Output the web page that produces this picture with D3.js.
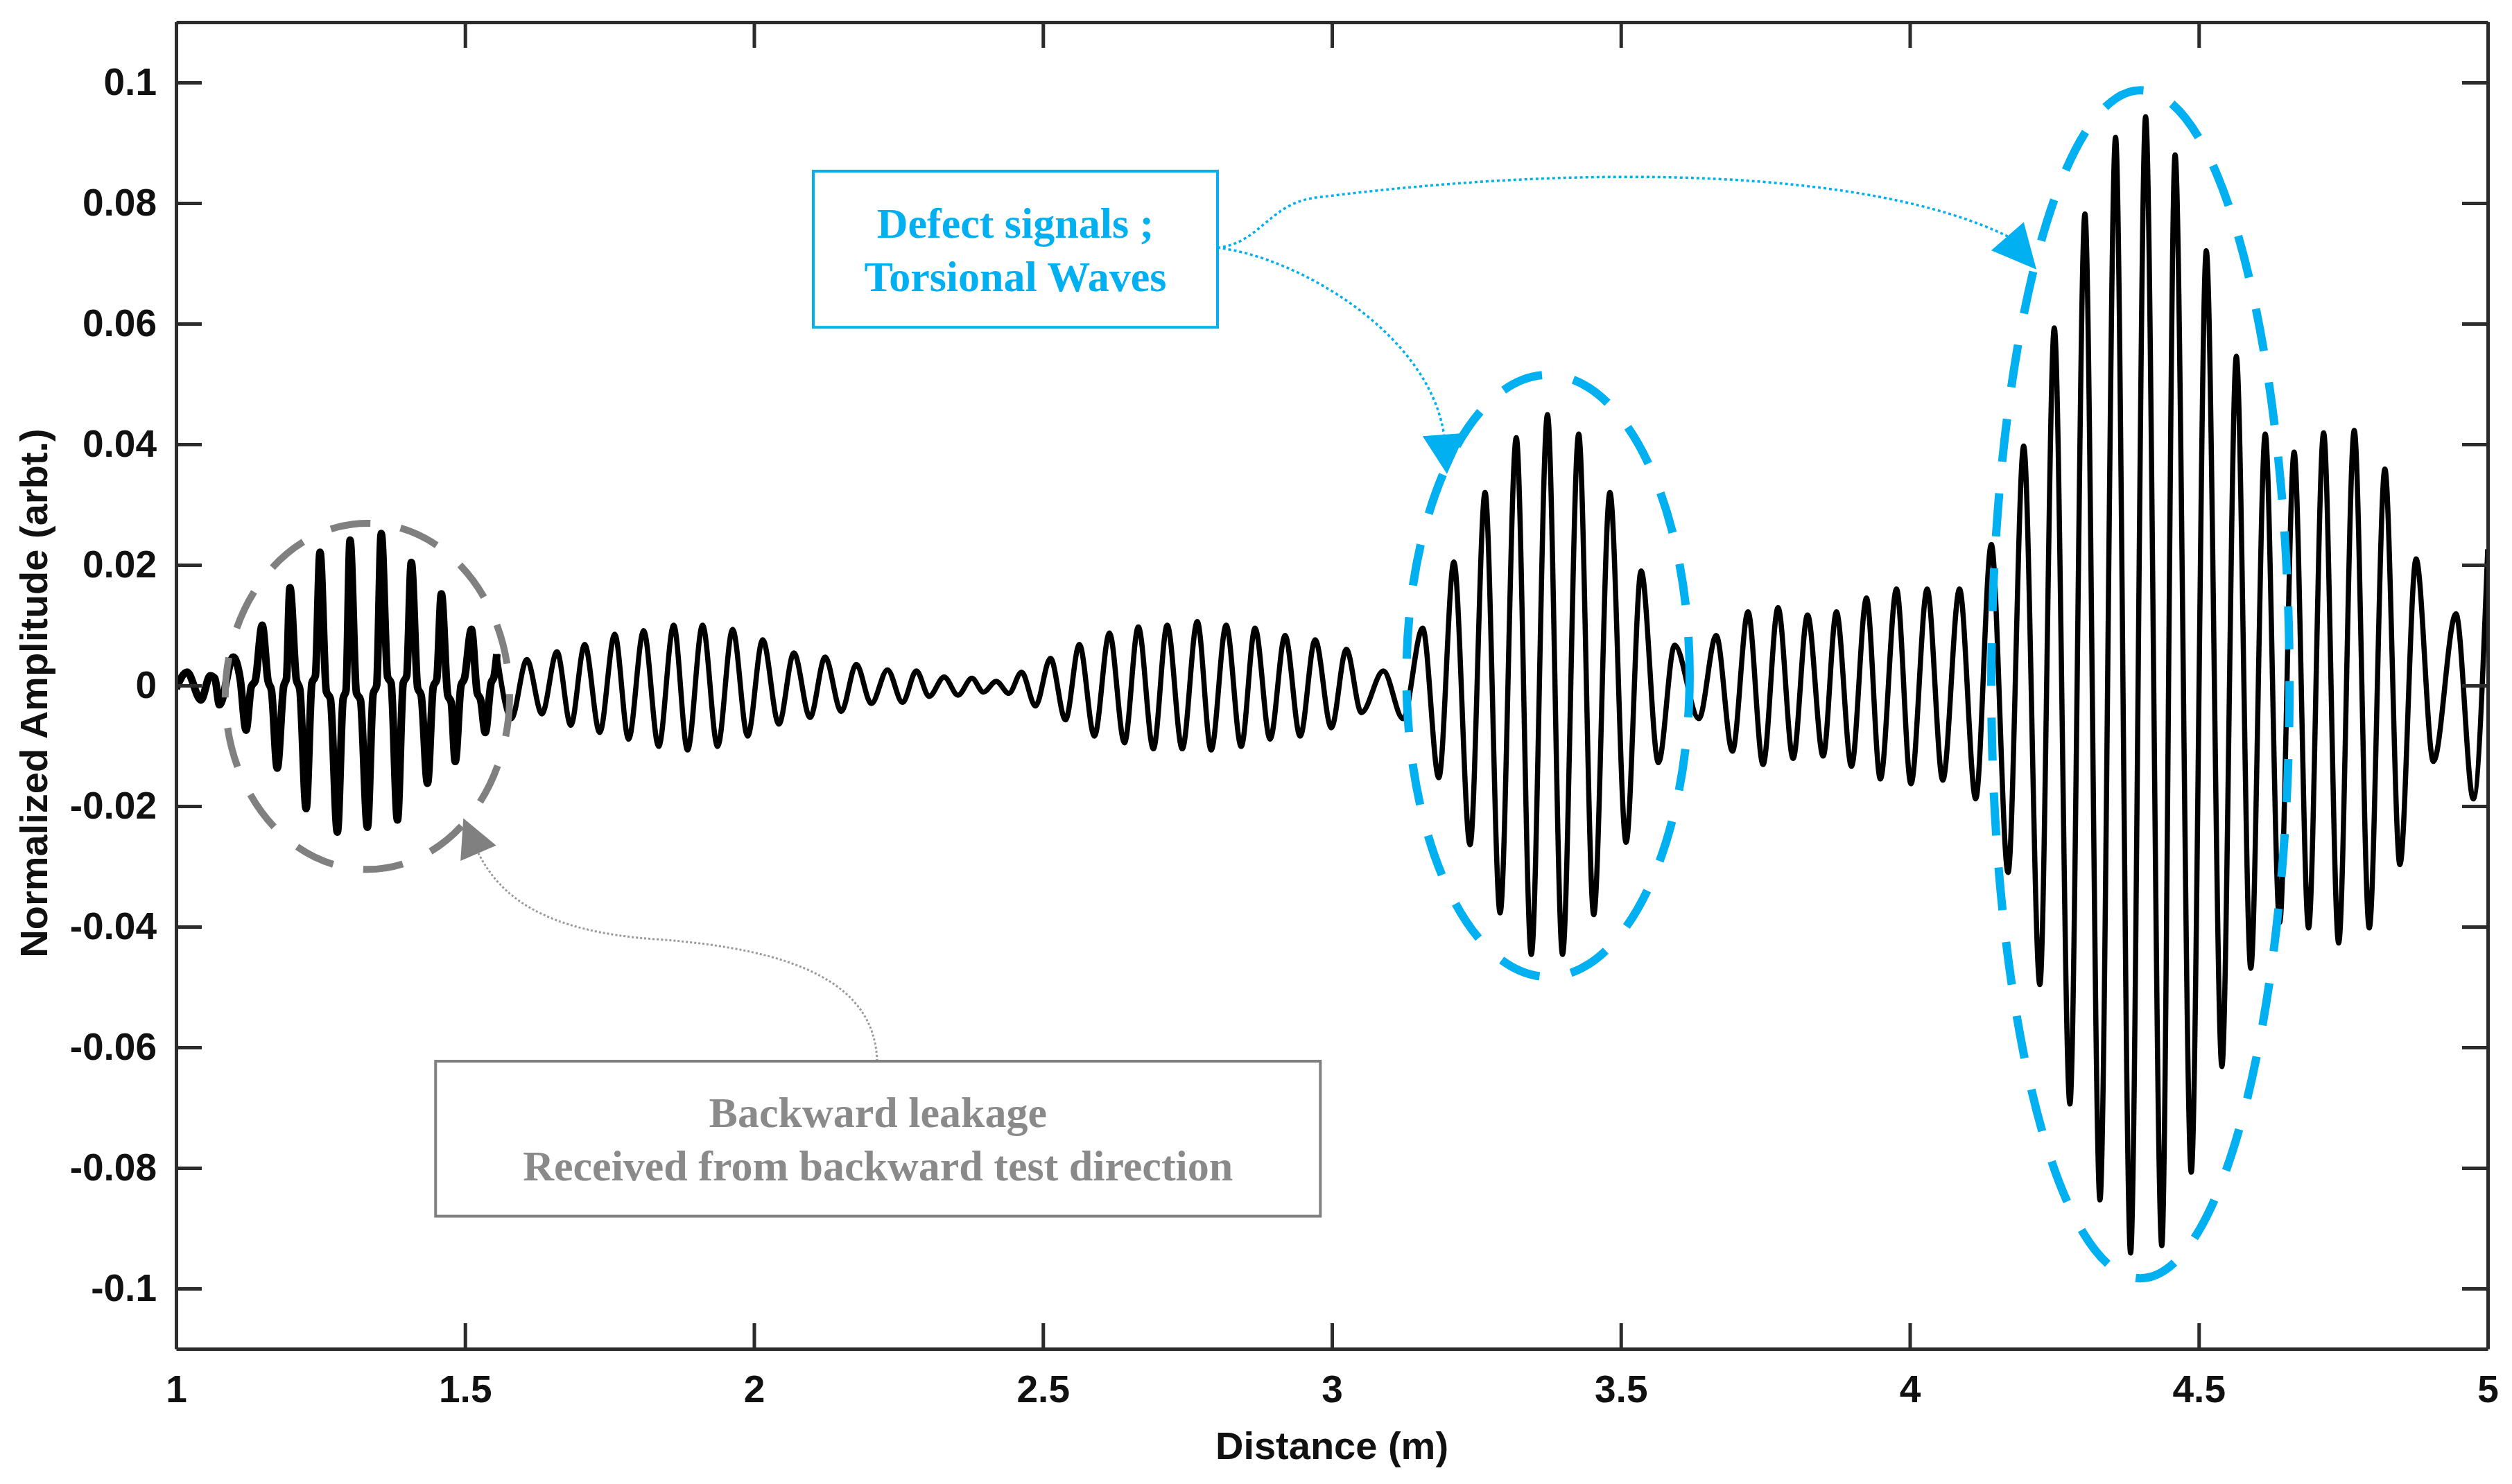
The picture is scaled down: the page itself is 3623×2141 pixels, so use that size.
<!DOCTYPE html>
<html>
<head>
<meta charset="utf-8">
<script src="https://cdn.jsdelivr.net/npm/d3@7"></script>
<style>
  html, body { margin: 0; padding: 0; background: #fff; }
  svg { display: block; }
</style>
</head>
<body>
<div id="chart"></div>
<script>
// signal as [distance (m), normalized amplitude] at peaks, troughs and knees
const leakagePart = [
  [1.000, -0.0005], [1.019, 0.0022], [1.043, -0.0024], [1.059, 0.0016], [1.067, 0.0012],
  [1.075, -0.0032], [1.099, 0.0047], [1.111, 0.0010], [1.121, -0.0074], [1.130, -0.0002],
  [1.137, 0.0008], [1.149, 0.0100], [1.159, 0.0008], [1.165, -0.0008], [1.175, -0.0137],
  [1.186, -0.0002], [1.191, 0.0012], [1.197, 0.0162], [1.208, 0.0010], [1.214, -0.0006],
  [1.225, -0.0204], [1.235, 0.0004], [1.241, 0.0016], [1.249, 0.0221], [1.260, -0.0010],
  [1.267, -0.0022], [1.279, -0.0243], [1.289, -0.0022], [1.294, -0.0008], [1.301, 0.0241],
  [1.312, -0.0012], [1.319, -0.0024], [1.331, -0.0235], [1.341, -0.0014], [1.347, 0.0000],
  [1.355, 0.0252], [1.366, 0.0014], [1.372, 0.0004], [1.383, -0.0223], [1.393, 0.0004],
  [1.399, 0.0016], [1.407, 0.0204], [1.418, -0.0004], [1.424, -0.0016], [1.435, -0.0162],
  [1.445, -0.0002], [1.451, 0.0010], [1.459, 0.0152], [1.470, -0.0016], [1.476, -0.0028],
  [1.483, -0.0126], [1.493, 0.0000], [1.499, 0.0012], [1.511, 0.0093], [1.521, -0.0012],
  [1.527, -0.0024], [1.535, -0.0078], [1.545, 0.0004], [1.550, 0.0014], [1.555, 0.0052]
];

const forwardPart = [
  [1.580, -0.0055], [1.607, 0.0043], [1.633, -0.0047], [1.659, 0.0056], [1.683, -0.0066],
  [1.707, 0.0068], [1.733, -0.0078], [1.759, 0.0085], [1.783, -0.0089], [1.809, 0.0091],
  [1.835, -0.0101], [1.861, 0.0100], [1.885, -0.0107], [1.911, 0.0100], [1.937, -0.0101],
  [1.963, 0.0093], [1.989, -0.0084], [2.015, 0.0076], [2.043, -0.0064], [2.069, 0.0054],
  [2.097, -0.0053], [2.123, 0.0047], [2.151, -0.0043], [2.177, 0.0035], [2.203, -0.0030],
  [2.231, 0.0026], [2.257, -0.0028], [2.281, 0.0024], [2.303, -0.0018], [2.329, 0.0014],
  [2.353, -0.0016], [2.377, 0.0012], [2.397, -0.0011], [2.419, 0.0007], [2.441, -0.0013],
  [2.463, 0.0022], [2.487, -0.0034], [2.513, 0.0045], [2.539, -0.0057], [2.563, 0.0068],
  [2.589, -0.0084], [2.615, 0.0087], [2.641, -0.0095], [2.665, 0.0097], [2.691, -0.0105],
  [2.715, 0.0100], [2.741, -0.0105], [2.767, 0.0106], [2.791, -0.0107], [2.817, 0.0100],
  [2.843, -0.0101], [2.867, 0.0095], [2.893, -0.0089], [2.919, 0.0083], [2.945, -0.0084],
  [2.971, 0.0076], [2.999, -0.0070], [3.025, 0.0060], [3.051, -0.0045], [3.089, 0.0024],
  [3.123, -0.0055], [3.157, 0.0095], [3.185, -0.0153]
];

const firstDefectPart = [
  [3.211, 0.0205], [3.239, -0.0264], [3.265, 0.0320], [3.291, -0.0377], [3.319, 0.0411],
  [3.345, -0.0446], [3.373, 0.0449], [3.399, -0.0446], [3.427, 0.0417], [3.453, -0.0380],
  [3.481, 0.0320], [3.509, -0.0260], [3.535, 0.0190], [3.565, -0.0128], [3.593, 0.0067],
  [3.635, -0.0055], [3.665, 0.0083], [3.693, -0.0109], [3.720, 0.0122], [3.746, -0.0131],
  [3.772, 0.0129], [3.798, -0.0121], [3.823, 0.0117], [3.850, -0.0117], [3.873, 0.0122],
  [3.899, -0.0134], [3.925, 0.0145], [3.949, -0.0155], [3.977, 0.0160], [4.002, -0.0163],
  [4.030, 0.0160], [4.057, -0.0157], [4.086, 0.0160], [4.114, -0.0188]
];

const secondDefectPart = [
  [4.141, 0.0234], [4.170, -0.0310], [4.197, 0.0397], [4.225, -0.0496], [4.250, 0.0593],
  [4.277, -0.0694], [4.303, 0.0782], [4.329, -0.0853], [4.356, 0.0909], [4.382, -0.0941],
  [4.408, 0.0943], [4.436, -0.0929], [4.459, 0.0880], [4.487, -0.0807], [4.513, 0.0721],
  [4.540, -0.0632], [4.565, 0.0546], [4.590, -0.0469], [4.615, 0.0417], [4.640, -0.0393],
  [4.665, 0.0387], [4.690, -0.0402], [4.716, 0.0419], [4.742, -0.0427], [4.769, 0.0423],
  [4.795, -0.0402], [4.822, 0.0359], [4.848, -0.0297], [4.876, 0.0210], [4.906, -0.0126],
  [4.945, 0.0119], [4.975, -0.0188], [5.000, 0.0226]
];

const xTicks = [1, 1.5, 2, 2.5, 3, 3.5, 4, 4.5, 5];
const xTickLabels = ["1", "1.5", "2", "2.5", "3", "3.5", "4", "4.5", "5"];
const yTicks = [-0.1, -0.08, -0.06, -0.04, -0.02, 0, 0.02, 0.04, 0.06, 0.08, 0.1];
const yTickLabels = ["-0.1", "-0.08", "-0.06", "-0.04", "-0.02", "0", "0.02", "0.04", "0.06", "0.08", "0.1"];

const xTitle = "Distance (m)";
const yTitle = "Normalized Amplitude (arbt.)";
const defectText = ["Defect signals ;", "Torsional Waves"];
const leakageText = ["Backward leakage", "Received from backward test direction"];

// layout
const W = 3623, H = 2141;
const plotLeft = 254, plotRight = 3588, plotTop = 32, plotBottom = 1946;
const tickLen = 37;
const axisColor = "#2b2b2b";
const blue = "#00b0f0";
const gray = "#808080";

const svg = d3.select("#chart").append("svg")
    .attr("width", W)
    .attr("height", H)
    .attr("viewBox", [0, 0, W, H]);

const x = d3.scaleLinear().domain([1, 5]).range([plotLeft, plotRight]);
const y = d3.scaleLinear().domain([-0.11, 0.11]).range([plotBottom, plotTop]);

svg.append("defs").append("clipPath").attr("id", "plot-clip")
    .append("rect")
    .attr("x", plotLeft).attr("y", plotTop)
    .attr("width", plotRight - plotLeft).attr("height", plotBottom - plotTop);

// signal: the dense leakage burst reads heavier in the figure, so it gets a wider stroke
const mainSignal = [leakagePart[leakagePart.length - 1], ...forwardPart, ...firstDefectPart, ...secondDefectPart];

const line = d3.line()
    .x(d => x(d[0]))
    .y(d => y(d[1]))
    .curve(d3.curveMonotoneX);

const sig = svg.append("g").attr("clip-path", "url(#plot-clip)");

sig.append("path")
    .datum(mainSignal)
    .attr("fill", "none")
    .attr("stroke", "#000")
    .attr("stroke-width", 7.5)
    .attr("stroke-linejoin", "round")
    .attr("d", line);

sig.append("path")
    .datum(leakagePart)
    .attr("fill", "none")
    .attr("stroke", "#000")
    .attr("stroke-width", 11)
    .attr("stroke-linejoin", "round")
    .attr("d", line);

// annotation shapes, placed in data units
const ann = svg.append("g");

function ellipse(cx, cy, rx, ry, color, width, dash) {
    ann.append("ellipse")
        .attr("cx", x(cx)).attr("cy", y(cy))
        .attr("rx", x(cx + rx) - x(cx))
        .attr("ry", y(cy) - y(cy + ry))
        .attr("fill", "none")
        .attr("stroke", color)
        .attr("stroke-width", width)
        .attr("stroke-dasharray", dash);
}

ellipse(1.331, -0.0018, 0.246, 0.0287, gray, 10, "58 44");
ellipse(3.374, 0.0016, 0.245, 0.0499, blue, 12, "60 46");
ellipse(4.399, 0.0002, 0.258, 0.0985, blue, 12, "62 46");

function curve(points, color, width, dash) {
    const p = d3.path();
    p.moveTo(x(points[0][0]), y(points[0][1]));
    for (let i = 1; i < points.length; i += 3) {
        p.bezierCurveTo(
            x(points[i][0]), y(points[i][1]),
            x(points[i + 1][0]), y(points[i + 1][1]),
            x(points[i + 2][0]), y(points[i + 2][1]));
    }
    ann.append("path")
        .attr("d", p.toString())
        .attr("fill", "none")
        .attr("stroke", color)
        .attr("stroke-width", width)
        .attr("stroke-dasharray", dash);
}

function arrowHead(base, tip, halfW, color) {
    const bx = x(base[0]), by = y(base[1]);
    const tx = x(tip[0]), ty = y(tip[1]);
    const len = Math.hypot(tx - bx, ty - by);
    const px = -(ty - by) / len * halfW, py = (tx - bx) / len * halfW;
    ann.append("path")
        .attr("d", `M${tx},${ty}L${bx + px},${by + py}L${bx - px},${by - py}Z`)
        .attr("fill", color);
}

// blue arrows from the defect box
curve([[2.802, 0.0726], [2.939, 0.0711], [3.167, 0.0585], [3.194, 0.0416]], blue, 3.5, "4 4");
arrowHead([3.194, 0.0416], [3.199, 0.0351], 31, blue);

curve([[2.802, 0.0726], [2.879, 0.0734], [2.891, 0.0803], [2.980, 0.0810],
       [3.455, 0.0867], [3.935, 0.0855], [4.169, 0.0745]], blue, 3.5, "4 4");
arrowHead([4.169, 0.0745], [4.219, 0.0690], 31, blue);

// gray arrow from the leakage box
curve([[2.213, -0.0623], [2.209, -0.0495], [2.075, -0.0438], [1.835, -0.0421],
       [1.631, -0.0409], [1.559, -0.0346], [1.523, -0.0278]], "#9a9a9a", 3, "3 3");
arrowHead([1.523, -0.0278], [1.497, -0.0220], 28, gray);

// boxes
function textBox(x0, x1, y0, y1, lines, color, textColor) {
    ann.append("rect")
        .attr("x", x(x0)).attr("y", y(y0))
        .attr("width", x(x1) - x(x0)).attr("height", y(y1) - y(y0))
        .attr("fill", "#fff")
        .attr("stroke", color)
        .attr("stroke-width", 4);
    const cx = (x(x0) + x(x1)) / 2;
    const cy = (y(y0) + y(y1)) / 2;
    lines.forEach((t, i) => {
        ann.append("text")
            .attr("x", cx)
            .attr("y", cy + (i - (lines.length - 1) / 2) * 77 + 22)
            .attr("text-anchor", "middle")
            .attr("font-family", "'Liberation Serif', 'Times New Roman', serif")
            .attr("font-weight", "bold")
            .attr("font-size", 62)
            .attr("fill", textColor)
            .text(t);
    });
}

textBox(2.1026, 2.802, 0.0853, 0.0594, defectText, blue, blue);
textBox(1.449, 2.980, -0.0623, -0.0880, leakageText, gray, "#8a8a8a");

// axes: MATLAB style box with inward ticks
const fontFamily = "'Liberation Sans', Arial, Helvetica, sans-serif";

function styleAxis(g) {
    g.select(".domain").attr("stroke", axisColor).attr("stroke-width", 5);
    g.selectAll(".tick line").attr("stroke", axisColor).attr("stroke-width", 5);
    g.selectAll(".tick text")
        .attr("fill", "#111")
        .attr("font-family", fontFamily)
        .attr("font-weight", "bold")
        .attr("font-size", 55);
}

svg.append("g")
    .attr("transform", `translate(0,${plotBottom})`)
    .call(d3.axisBottom(x).tickValues(xTicks)
        .tickFormat((d, i) => xTickLabels[i])
        .tickSizeInner(-tickLen).tickSizeOuter(0).tickPadding(38))
    .call(styleAxis);

svg.append("g")
    .attr("transform", `translate(0,${plotTop})`)
    .call(d3.axisTop(x).tickValues(xTicks).tickFormat("")
        .tickSizeInner(-tickLen).tickSizeOuter(0))
    .call(styleAxis);

svg.append("g")
    .attr("transform", `translate(${plotLeft},0)`)
    .call(d3.axisLeft(y).tickValues(yTicks)
        .tickFormat((d, i) => yTickLabels[i])
        .tickSizeInner(-tickLen).tickSizeOuter(0).tickPadding(28))
    .call(styleAxis);

svg.append("g")
    .attr("transform", `translate(${plotRight},0)`)
    .call(d3.axisRight(y).tickValues(yTicks).tickFormat("")
        .tickSizeInner(-tickLen).tickSizeOuter(0))
    .call(styleAxis);

// axis titles
svg.append("text")
    .attr("x", (plotLeft + plotRight) / 2)
    .attr("y", 2105)
    .attr("text-anchor", "middle")
    .attr("font-family", fontFamily)
    .attr("font-weight", "bold")
    .attr("font-size", 56)
    .attr("fill", "#111")
    .text(xTitle);

svg.append("text")
    .attr("transform", `translate(68,1000) rotate(-90)`)
    .attr("text-anchor", "middle")
    .attr("font-family", fontFamily)
    .attr("font-weight", "bold")
    .attr("font-size", 56)
    .attr("fill", "#111")
    .text(yTitle);
</script>
</body>
</html>
